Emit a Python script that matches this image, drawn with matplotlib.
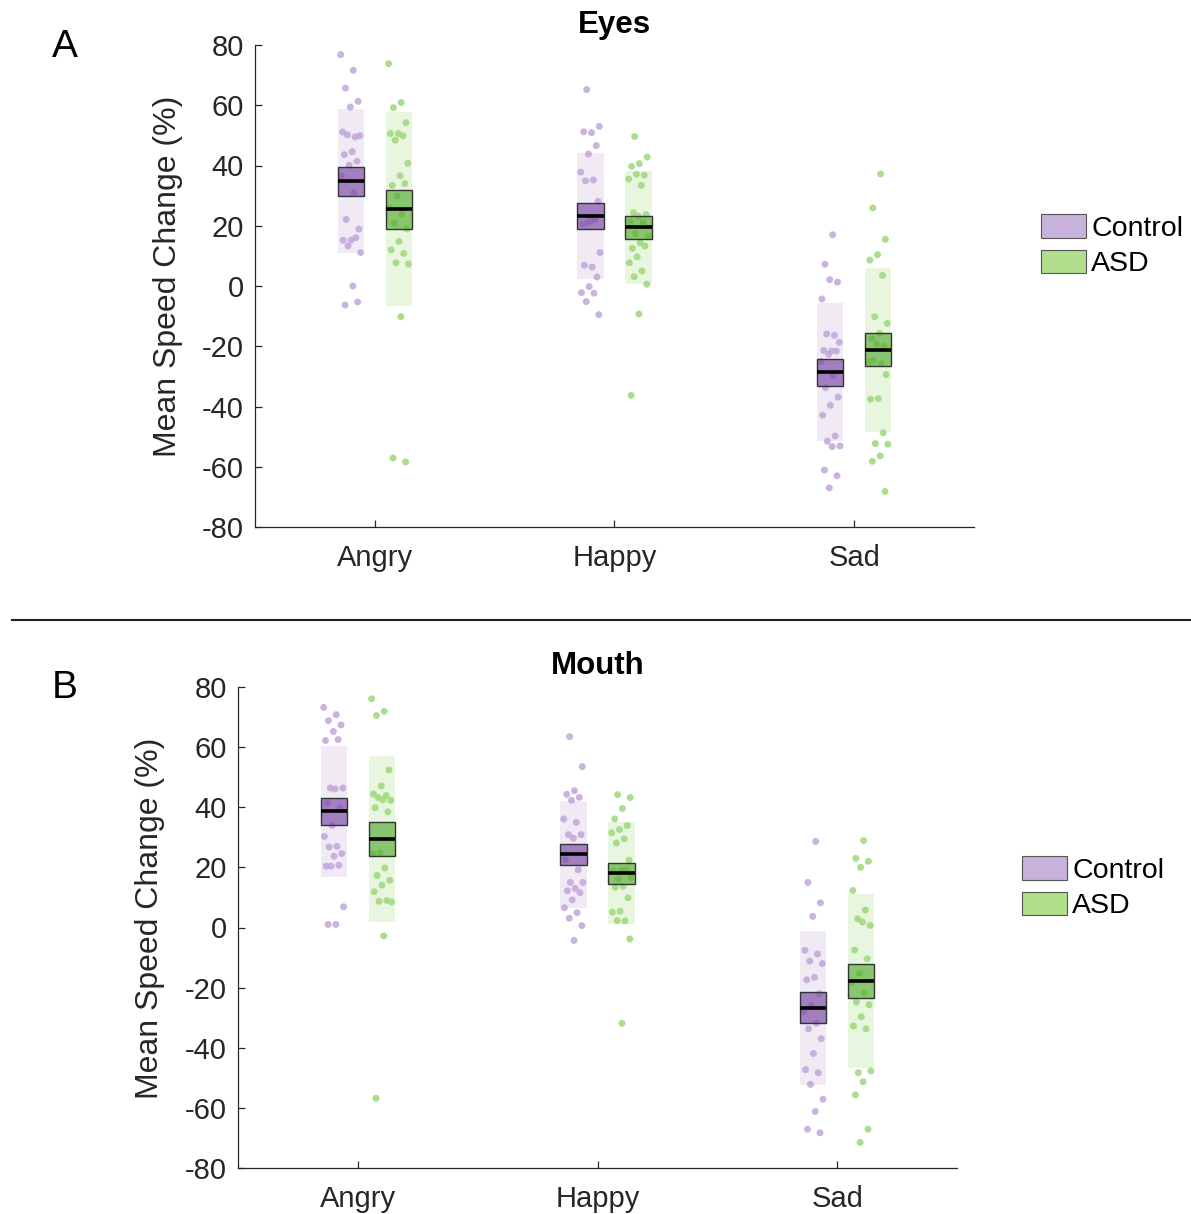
import matplotlib
matplotlib.use("Agg")
import matplotlib.pyplot as plt
import numpy as np
from matplotlib.patches import Rectangle, Patch
from matplotlib.lines import Line2D

plt.rcParams['font.family'] = ['Liberation Sans', 'DejaVu Sans']

emotions = ["Angry", "Happy", "Sad"]
groups = ["Control", "ASD"]
yticks = [-80, -60, -40, -20, 0, 20, 40, 60, 80]

# ---- Eyes: per-participant mean speed change (%) ----
eyes_control_angry = [76.8, 71.6, 65.7, 61.3, 59.4, 51.1, 49.5, 50.2, 49.9, 44.6, 43.6, 41.4,
                      40.1, 36.5, 31.0, 22.1, 18.9, 15.2, 15.2, 16.0, 13.3, 11.1, 0.0, -6.3, -5.3]
eyes_asd_angry = [73.8, 60.9, 59.2, 54.2, 50.6, 50.6, 49.8, 48.4, 40.7, 36.6, 33.4, 34.0, 29.9,
                  26.0, 23.8, 20.8, 18.9, 14.8, 12.0, 10.8, 7.7, 7.3, -10.2, -57.1, -58.4]
eyes_control_happy = [65.2, 53.0, 50.9, 51.2, 46.6, 43.8, 37.8, 35.2, 34.9, 28.1, 21.5, 20.5,
                      22.0, 21.0, 11.1, 6.3, 6.9, 3.0, -0.2, -2.2, -2.4, -5.2, -9.5]
eyes_asd_happy = [49.6, 42.8, 40.6, 39.7, 36.8, 37.1, 35.5, 33.4, 24.3, 23.7, 23.2, 21.3, 21.0,
                  17.4, 16.6, 14.4, 12.5, 13.3, 9.7, 7.7, 5.0, 3.1, 0.6, -9.3, -36.3]
eyes_control_sad = [17.0, 7.2, 1.3, 2.1, -4.3, -16.4, -15.9, -18.7, -21.6, -21.4, -21.6, -22.7,
                    -25.1, -29.8, -33.8, -36.9, -39.6, -42.9, -49.8, -51.5, -53.1, -53.3,
                    -61.1, -63.0, -67.0]
eyes_asd_sad = [37.2, 25.9, 15.5, 10.4, 8.6, 3.5, -10.2, -12.4, -15.7, -17.4, -19.9, -19.3,
                -25.2, -25.7, -24.7, -29.4, -37.4, -37.6, -48.7, -52.3, -52.5, -56.4, -58.2, -68.2]

# group summaries: mean, standard error, standard deviation (Angry, Happy, Sad)
eyes_mean = {"Control": [34.8, 23.2, -28.7], "ASD": [25.4, 19.5, -21.2]}
eyes_sem = {"Control": [4.8, 4.3, 4.6], "ASD": [6.4, 3.9, 5.5]}
eyes_sd = {"Control": [23.8, 21.0, 22.9], "ASD": [32.2, 18.8, 27.2]}

# ---- Mouth: per-participant mean speed change (%) ----
mouth_control_angry = [73.2, 70.8, 68.8, 67.4, 65.2, 62.2, 62.5, 46.4, 46.4, 46.1, 41.4, 39.8,
                       33.9, 30.3, 27.0, 26.8, 24.6, 23.7, 20.4, 20.7, 20.4, 6.9, 1.0, 1.0]
mouth_asd_angry = [76.1, 71.9, 70.5, 52.4, 47.1, 44.4, 43.9, 43.2, 42.3, 42.5, 39.8, 38.5,
                   24.8, 24.4, 19.8, 17.3, 15.7, 14.1, 11.9, 9.0, 8.7, 8.5, -2.8, -56.8]
mouth_control_happy = [63.5, 53.5, 45.5, 44.3, 43.3, 42.3, 36.1, 35.0, 30.9, 30.9, 29.7, 22.6,
                       19.2, 15.0, 15.0, 13.0, 12.2, 11.6, 9.2, 6.6, 4.9, 3.1, 0.6, -4.3]
mouth_asd_happy = [44.2, 43.2, 39.6, 36.1, 33.9, 32.6, 31.5, 29.5, 28.1, 22.4, 19.0, 18.7, 19.0,
                   16.2, 16.7, 13.7, 13.4, 9.9, 5.4, 5.1, 2.2, 2.3, -3.8, -31.9]
mouth_control_sad = [28.6, 15.0, 8.2, 3.7, -7.6, -8.8, -11.2, -12.0, -16.6, -17.4, -22.0, -26.0,
                     -28.0, -31.9, -33.7, -37.0, -41.9, -47.3, -48.3, -52.2, -57.1, -61.2,
                     -67.1, -68.3]
mouth_asd_sad = [28.9, 23.0, 22.0, 20.0, 12.3, 5.8, 2.9, 0.7, 1.8, -7.5, -10.4, -15.3, -18.4,
                 -21.8, -24.8, -25.7, -29.7, -32.8, -33.7, -48.3, -47.7, -51.3, -55.7, -67.1, -71.5]

mouth_mean = {"Control": [38.6, 24.3, -26.7], "ASD": [29.5, 18.0, -17.8]}
mouth_sem = {"Control": [4.4, 3.6, 5.1], "ASD": [5.6, 3.5, 5.8]}
mouth_sd = {"Control": [21.9, 17.9, 25.6], "ASD": [27.7, 17.0, 28.9]}

eyes_points = {
    "Control": [eyes_control_angry, eyes_control_happy, eyes_control_sad],
    "ASD": [eyes_asd_angry, eyes_asd_happy, eyes_asd_sad],
}
mouth_points = {
    "Control": [mouth_control_angry, mouth_control_happy, mouth_control_sad],
    "ASD": [mouth_asd_angry, mouth_asd_happy, mouth_asd_sad],
}

# ---- styling ----
offset = {"Control": -0.1, "ASD": 0.1}
box_w = 0.11
band_color = {"Control": "#f0eaf4", "ASD": "#e9f6df"}
point_color = {"Control": "#c3a5d9", "ASD": "#9ed879"}
box_color = {"Control": (0.45, 0.25, 0.63), "ASD": (0.30, 0.66, 0.16)}
legend_color = {"Control": "#c8b1da", "ASD": "#b2df8c"}
ink = "#262626"

W, H = 1191, 1214
fig = plt.figure(figsize=(W / 100, H / 100), dpi=100)


def draw_panel(ax, title, points, means, sems, sds, label_x):
    for g in groups:
        for i, emo in enumerate(emotions):
            xc = i + 1 + offset[g]
            m, se, sd = means[g][i], sems[g][i], sds[g][i]
            # standard-deviation band
            ax.add_patch(Rectangle((xc - box_w / 2, m - sd), box_w, 2 * sd,
                                   facecolor=band_color[g], edgecolor="none", zorder=1))
            # individual participants, spread sideways
            vals = np.asarray(points[g][i])
            k = np.arange(len(vals))
            jit = ((k * 0.6180339887 + 0.31 * i) % 1.0 - 0.5) * 0.085
            ax.scatter(xc + jit, vals, s=25, color=point_color[g], alpha=0.85,
                       edgecolors="none", zorder=2)
            # standard-error box and mean line
            ax.add_patch(Rectangle((xc - box_w / 2, m - se), box_w, 2 * se,
                                   facecolor=box_color[g], alpha=0.62, edgecolor="none",
                                   zorder=3))
            ax.add_patch(Rectangle((xc - box_w / 2, m - se), box_w, 2 * se,
                                   facecolor="none", edgecolor="#333333", linewidth=1.0,
                                   zorder=4))
            ax.plot([xc - box_w / 2, xc + box_w / 2], [m, m], color="black",
                    linewidth=2.6, solid_capstyle="butt", zorder=5)

    ax.set_xlim(0.5, 3.5)
    ax.set_ylim(-80, 80)
    ax.set_xticks([1, 2, 3])
    ax.set_xticklabels(emotions)
    ax.set_yticks(yticks)
    ax.set_yticklabels([str(t) for t in yticks])
    for side in ("top", "right"):
        ax.spines[side].set_visible(False)
    for side in ("left", "bottom"):
        ax.spines[side].set_color(ink)
        ax.spines[side].set_linewidth(0.9)
    ax.tick_params(axis="both", direction="in", length=5, width=0.9, color=ink,
                   labelcolor=ink, labelsize=21)
    ax.tick_params(axis="x", pad=12)
    ax.tick_params(axis="y", pad=8)
    ax.set_ylabel("Mean Speed Change (%)", fontsize=23, color=ink)
    ax.yaxis.set_label_coords(label_x, 0.52)
    ax.set_title(title, fontsize=22.5, fontweight="bold", pad=9)


axA = fig.add_axes([255 / W, 1 - 527 / H, 719 / W, 482 / H])
draw_panel(axA, "Eyes", eyes_points, eyes_mean, eyes_sem, eyes_sd, -0.100)
axB = fig.add_axes([238 / W, 1 - 1168 / H, 719 / W, 481 / H])
draw_panel(axB, "Mouth", mouth_points, mouth_mean, mouth_sem, mouth_sd, -0.102)

handles = [Patch(facecolor=legend_color[g], edgecolor="#555555", linewidth=0.8, label=g)
           for g in groups]
for anchor in [(1041 / W, 1 - 214 / H), (1022 / W, 1 - 856 / H)]:
    fig.legend(handles=handles, loc="upper left", bbox_to_anchor=anchor,
               bbox_transform=fig.transFigure, frameon=False, fontsize=20.5,
               handlelength=1.58, handleheight=0.9, handletextpad=0.18,
               labelspacing=0.28, borderpad=0, borderaxespad=0)

fig.text(65 / W, 1 - 47 / H, "A", fontsize=28, ha="center", va="center")
fig.text(65 / W, 1 - 688 / H, "B", fontsize=28, ha="center", va="center")
fig.add_artist(Line2D([12 / W, 1.0], [1 - 620 / H, 1 - 620 / H],
                      transform=fig.transFigure, color="#222222", linewidth=1.5))

fig.savefig("out.png", dpi=100, facecolor="white")
